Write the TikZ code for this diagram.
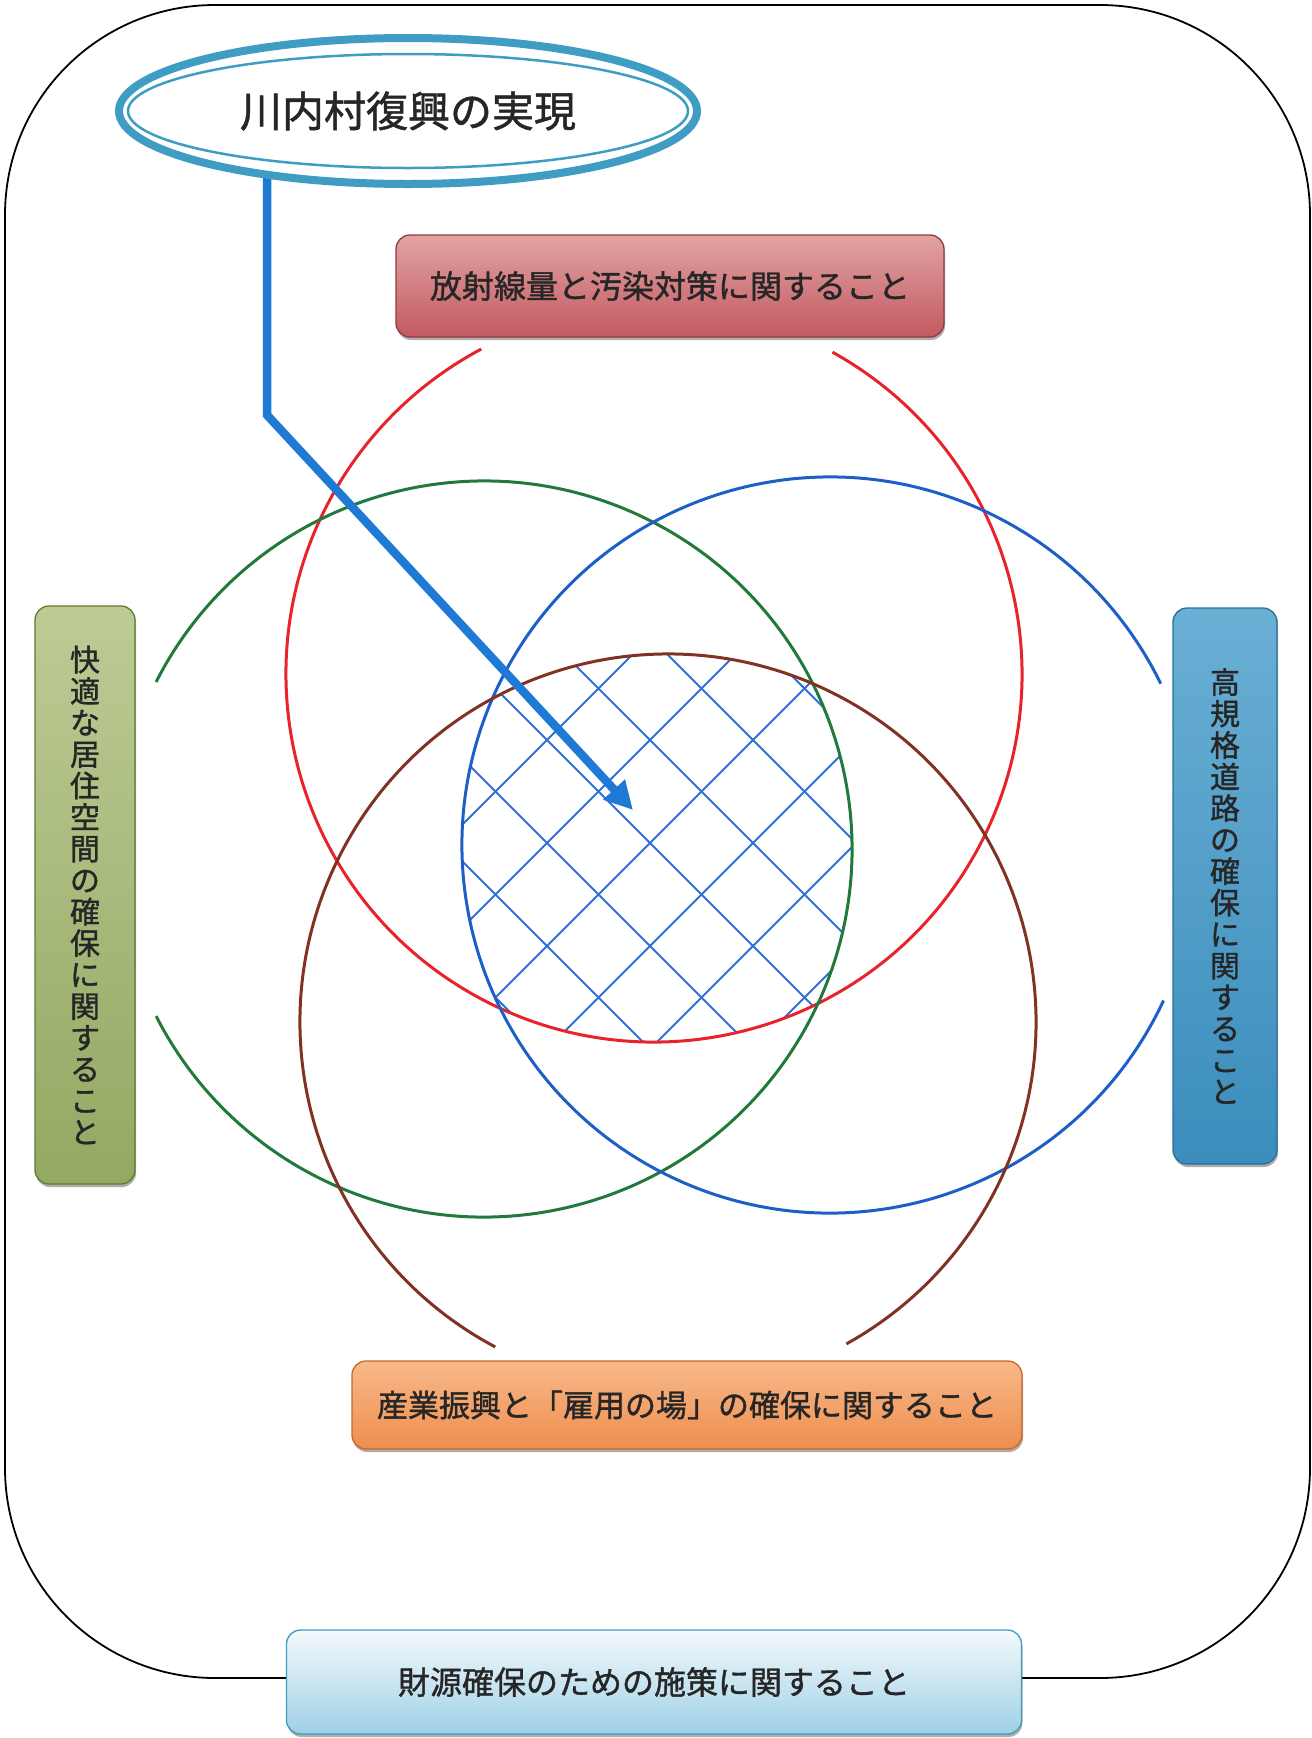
\documentclass[tikz,border=0pt]{standalone}
\usepackage{fontspec}
\setmainfont{Noto Sans CJK JP}[FakeBold=1.2]
\usetikzlibrary{shapes.geometric,shadows,arrows.meta}
\pgfdeclarelayer{back}
\pgfdeclarelayer{mid}
\pgfsetlayers{back,mid,main}
\definecolor{tealc}{HTML}{3F9DC3}
\definecolor{arrowc}{HTML}{1F7AD6}
\definecolor{redc}{HTML}{E8232B}
\definecolor{greenc}{HTML}{217A3C}
\definecolor{bluec}{HTML}{1D5FC6}
\definecolor{brownc}{HTML}{823222}
\definecolor{hatchc}{HTML}{2F6FD8}
\definecolor{txtc}{HTML}{262626}
\definecolor{redtop}{HTML}{E2A3A3}
\definecolor{redbot}{HTML}{C25A61}
\definecolor{redbd}{HTML}{8E3A40}
\definecolor{grtop}{HTML}{BDCB95}
\definecolor{grbot}{HTML}{93A962}
\definecolor{grbd}{HTML}{5F7A34}
\definecolor{bltop}{HTML}{6AAFD4}
\definecolor{blbot}{HTML}{3B8DBD}
\definecolor{blbd}{HTML}{2A6E96}
\definecolor{ortop}{HTML}{F8B98A}
\definecolor{orbot}{HTML}{EE8E4E}
\definecolor{orbd}{HTML}{C8662E}
\definecolor{lttop}{HTML}{F4FAFC}
\definecolor{ltbot}{HTML}{9FD0E6}
\definecolor{ltbd}{HTML}{3F9BBF}
\tikzset{
  boxbase/.style={rounded corners=14pt, line width=1.3pt, text=txtc,
    drop shadow={shadow xshift=1pt, shadow yshift=-3pt, opacity=0.45, fill=black!70},
    font=\fontsize{31}{33}\selectfont, inner sep=0pt},
  redbox/.style={boxbase, draw=redbd, top color=redtop, bottom color=redbot, font=\fontsize{32}{34}\selectfont},
  greenbox/.style={boxbase, draw=grbd, top color=grtop, bottom color=grbot,
    font=\fontsize{30}{31.5}\selectfont, align=center},
  bluebox/.style={boxbase, draw=blbd, top color=bltop, bottom color=blbot,
    font=\fontsize{30}{31.5}\selectfont, align=center},
  orangebox/.style={boxbase, draw=orbd, top color=ortop, bottom color=orbot},
  lightbox/.style={boxbase, draw=ltbd, top color=lttop, bottom color=ltbot, font=\fontsize{32}{34}\selectfont},
  ring/.style={line width=3pt},
}
\begin{document}
\begin{tikzpicture}[x=1pt,y=-1pt]
\useasboundingbox (0,0) rectangle (1312,1738);

% ---- nodes ----
\node[ellipse, draw=tealc, line width=8pt, fill=white, minimum width=578pt, minimum height=146pt,
      font=\fontsize{42}{44}\selectfont, text=txtc] (goal) at (408,111) {川内村復興の実現};
\draw[tealc, line width=2.5pt] (goal.center) ellipse [x radius=280, y radius=57];

\node[redbox, minimum width=548pt, minimum height=102pt] (rad) at (670,286) {放射線量と汚染対策に関すること};
\node[greenbox, minimum width=100pt, minimum height=578pt] (live) at (85,895)
  {快\\適\\な\\居\\住\\空\\間\\の\\確\\保\\に\\関\\す\\る\\こ\\と};
\node[bluebox, minimum width=104pt, minimum height=556pt] (road) at (1225,886)
  {高\\規\\格\\道\\路\\の\\確\\保\\に\\関\\す\\る\\こ\\と};
\node[orangebox, minimum width=670pt, minimum height=88pt] (ind) at (687,1405) {産業振興と「雇用の場」の確保に関すること};
\node[lightbox, minimum width=735pt, minimum height=104pt] (fin) at (654,1682) {財源確保のための施策に関すること};

\coordinate (bend) at (267,415);
\coordinate (tip) at (633,810);

% ---- frame, rings, hatch ----
\begin{pgfonlayer}{back}
  \draw[line width=1.8pt, rounded corners=210pt] (5,5) rectangle (1310,1678);
  \begin{scope}
    \clip (654,674) circle (368);
    \clip (484,849) circle (368);
    \clip (830,845) circle (368);
    \clip (668,1022) circle (368);
    \foreach \k [evaluate=\k as \c using 1493+103*\k, evaluate=\k as \d using -193+103*\k] in {-7,...,7} {
      \draw[hatchc, line width=2pt] (\c-400,400) -- (\c-1300,1300);
      \draw[hatchc, line width=2pt] (\d+400,400) -- (\d+1300,1300);
    }
  \end{scope}
  \draw[ring, redc] (654,674) ++(-61:368) arc[start angle=-61, end angle=242, radius=368];
  \draw[ring, greenc] (484,849) ++(-153:368) arc[start angle=-153, end angle=153, radius=368];
  \draw[ring, bluec] (830,845) ++(25:368) arc[start angle=25, end angle=334, radius=368];
  \draw[ring, brownc] (668,1022) ++(118:368) arc[start angle=118, end angle=421, radius=368];
\end{pgfonlayer}

% ---- arrow ----
\begin{pgfonlayer}{mid}
  \draw[arrowc, line width=8.5pt, -{Triangle[length=28pt,width=28pt]}] (goal.center -| bend) -- (bend) -- (tip);
\end{pgfonlayer}
\end{tikzpicture}
\end{document}
